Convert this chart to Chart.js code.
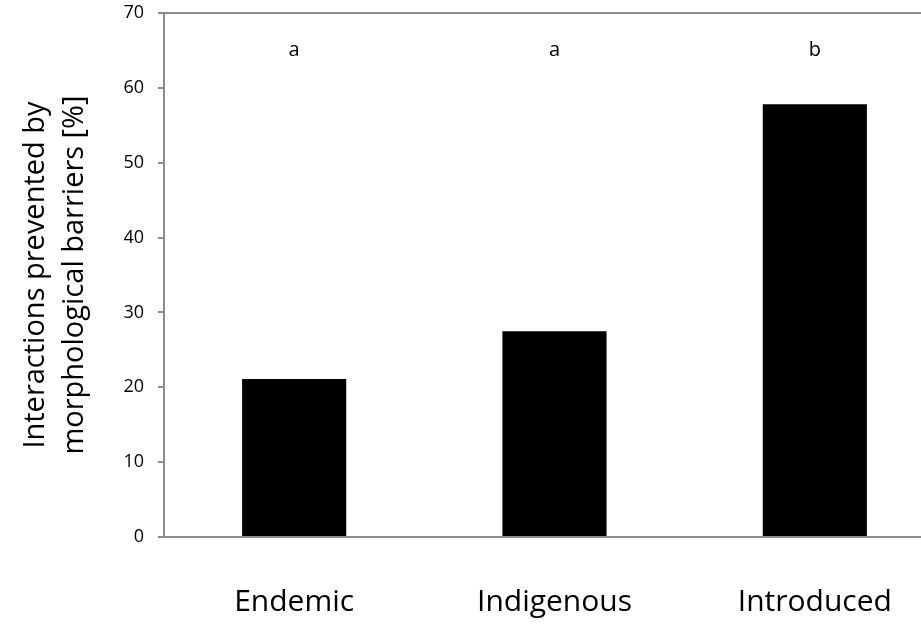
<!DOCTYPE html>
<html>
<head>
<meta charset="utf-8">
<script src="https://cdn.jsdelivr.net/npm/chart.js@4/dist/chart.umd.min.js"></script>
<style>
  html, body { margin: 0; padding: 0; background: #fff; overflow: hidden; }
  #wrap { width: 950px; height: 624px; }
</style>
</head>
<body>
<div id="wrap"><canvas id="chart" width="950" height="624"></canvas></div>
<script>
const categories = ['Endemic', 'Indigenous', 'Introduced'];
const preventedPct = [21.1, 27.5, 57.8];
const groupLetters = ['a', 'a', 'b'];
const letterLevel = 65;
const yTicks = [0, 10, 20, 30, 40, 50, 60, 70];

const FONT = "'Open Sans', sans-serif";
const AXIS_GRAY = '#8c8c8c';

// top frame line + significance letters
const extras = {
  id: 'extras',
  afterDatasetsDraw(chart) {
    const { ctx, chartArea, scales } = chart;
    ctx.save();
    ctx.strokeStyle = AXIS_GRAY;
    ctx.lineWidth = 2;
    ctx.beginPath();
    ctx.moveTo(chartArea.left, chartArea.top);
    ctx.lineTo(chartArea.right, chartArea.top);
    ctx.stroke();

    ctx.fillStyle = '#000';
    ctx.font = `20px ${FONT}`;
    ctx.textAlign = 'center';
    ctx.textBaseline = 'middle';
    groupLetters.forEach((letter, i) => {
      ctx.fillText(letter, scales.x.getPixelForValue(i), scales.y.getPixelForValue(letterLevel));
    });
    ctx.restore();
  },
};

new Chart(document.getElementById('chart'), {
  type: 'bar',
  data: {
    labels: categories,
    datasets: [
      {
        data: preventedPct,
        backgroundColor: '#000',
        barPercentage: 0.4,
        categoryPercentage: 1,
      },
    ],
  },
  options: {
    responsive: false,
    animation: false,
    layout: { padding: { top: 13, right: 5, bottom: 0, left: 0 } },
    plugins: {
      legend: { display: false },
      tooltip: { enabled: false },
    },
    scales: {
      x: {
        grid: { display: false },
        border: { color: AXIS_GRAY, width: 2 },
        ticks: { color: '#000', font: { family: FONT, size: 30 }, padding: 39 },
        afterFit(scale) {
          scale.height = 87;
          scale.paddingLeft = 0;
          scale.paddingRight = 0;
        },
      },
      y: {
        min: 0,
        max: 70,
        afterBuildTicks(scale) { scale.ticks = yTicks.map((v) => ({ value: v })); },
        grid: { drawOnChartArea: false, drawTicks: true, tickLength: 6, color: AXIS_GRAY, lineWidth: 2 },
        border: { color: AXIS_GRAY, width: 2 },
        ticks: { color: '#000', font: { family: FONT, size: 18 }, padding: 14 },
        title: {
          display: true,
          text: ['Interactions prevented by', 'morphological barriers [%]'],
          color: '#000',
          font: { family: FONT, size: 29, lineHeight: 1.35 },
          padding: { top: 16, bottom: 0 },
        },
        afterFit(scale) {
          scale.width = 164;
          scale.paddingTop = 0;
          scale.paddingBottom = 0;
        },
      },
    },
  },
  plugins: [extras],
});
</script>
</body>
</html>
